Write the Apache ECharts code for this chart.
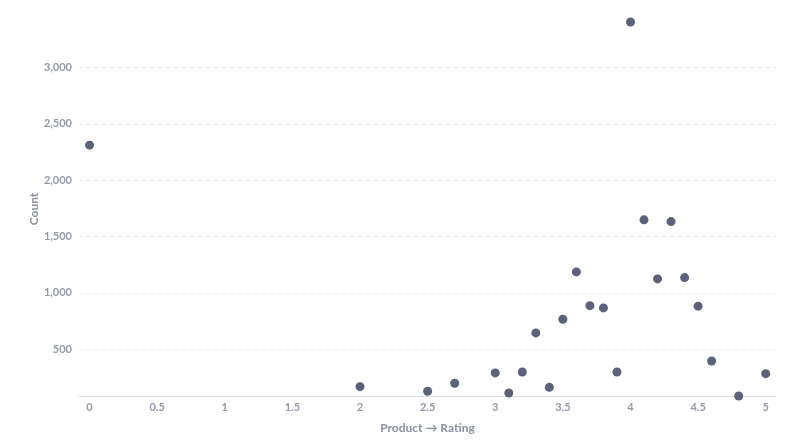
<!DOCTYPE html>
<html lang="en">
<head>
    <meta charset="UTF-8">
    <title>Product Rating vs Count</title>
    <script src="https://cdn.jsdelivr.net/npm/echarts@6/dist/echarts.min.js"></script>
    <style>
        html, body { margin: 0; padding: 0; background: #fff; }
    </style>
</head>
<body>
    <div id="main" style="width:800px;height:448px;"></div>

<script>

// ratings on x, counts on y
var ratings = [0, 2, 2.5, 2.7, 3, 3.1, 3.2, 3.3, 3.4, 3.5, 3.6, 3.7, 3.8, 3.9,
               4, 4.1, 4.2, 4.3, 4.4, 4.5, 4.6, 4.8, 5];
var counts = [2310, 167, 126, 197, 289, 111, 297, 644, 161, 765, 1185, 886, 866, 297,
              3403, 1647, 1123, 1632, 1135, 881, 395, 84, 282];

var xMin = -0.078;
var xMax = 5.076;

var points = ratings.map(function (r, i) { return [r, counts[i]]; });

var labelColor = '#949aab';
var nameColor = '#8a90a0';
var font = 'Lato, "Noto Sans", sans-serif';

var myChart = echarts.init(document.getElementById('main'));

myChart.setOption({
    animation: false,
    grid: {
        left: 79,
        right: 24,
        top: 22,
        bottom: 52
    },
    xAxis: {
        type: 'value',
        min: xMin,
        max: xMax,
        splitNumber: 10,
        name: 'Product → Rating',
        nameLocation: 'middle',
        nameGap: 26,
        nameMoveOverlap: false,
        nameTextStyle: {
            color: nameColor,
            fontFamily: font,
            fontWeight: 'bold',
            fontSize: 12
        },
        axisLine: {
            show: true,
            lineStyle: { color: '#dcdfe5', width: 1 }
        },
        axisTick: {
            show: true,
            customValues: [xMin, xMax],
            length: 4,
            lineStyle: { color: '#dcdfe5' }
        },
        axisLabel: {
            showMinLabel: false,
            showMaxLabel: false,
            margin: 6,
            color: labelColor,
            fontFamily: font,
            fontWeight: 'bold',
            fontSize: 11
        },
        splitLine: { show: false }
    },
    yAxis: {
        type: 'value',
        min: 'dataMin',
        max: 'dataMax',
        splitNumber: 5,
        name: 'Count',
        nameLocation: 'middle',
        nameGap: 39,
        nameMoveOverlap: false,
        nameTextStyle: {
            color: nameColor,
            fontFamily: font,
            fontWeight: 'bold',
            fontSize: 12
        },
        axisLine: { show: false },
        axisTick: { show: false },
        axisLabel: {
            showMinLabel: false,
            showMaxLabel: false,
            margin: 7,
            color: labelColor,
            fontFamily: font,
            fontWeight: 'bold',
            fontSize: 11,
            formatter: function (v) { return v.toLocaleString('en-US'); }
        },
        splitLine: {
            show: true,
            showMinLine: false,
            showMaxLine: false,
            lineStyle: { color: '#eceef1', type: [4, 4] }
        }
    },
    series: [{
        name: 'Count',
        type: 'scatter',
        symbolSize: 9,
        itemStyle: { color: '#5b6279', opacity: 1 },
        data: points
    }]
});

</script>
</body>
</html>
